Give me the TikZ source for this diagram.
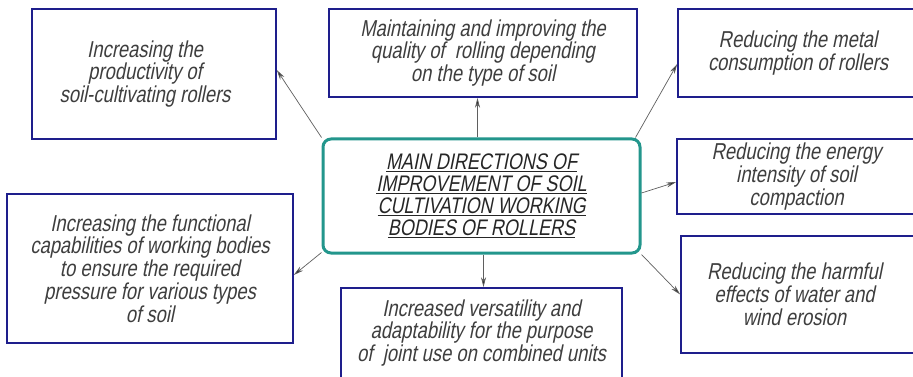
\documentclass[tikz,border=0pt]{standalone}
\usepackage{fontspec}
\setmainfont{Liberation Sans}[FakeSlant=0.2,FakeStretch=0.8]
\usetikzlibrary{arrows.meta}
\definecolor{boxblue}{RGB}{30,30,140}
\definecolor{hubteal}{RGB}{35,150,140}
\definecolor{inkgray}{RGB}{62,62,62}
\definecolor{wiregray}{RGB}{95,95,95}

\begin{document}
\begin{tikzpicture}[x=1pt,y=-1pt,
  aimtext/.style={text=inkgray, align=center, inner sep=0pt,
    font=\fontsize{23}{22.8}\selectfont},
  aim/.style={draw=boxblue, line width=1.6pt, fill=white, aimtext},
  hub/.style={draw=hubteal, line width=3pt, rounded corners=8pt, fill=white,
    text=black!85, align=center, inner sep=0pt, font=\fontsize{22.5}{22}\selectfont},
  link/.style={draw=wiregray, line width=0.7pt,
    -{Stealth[length=10pt,width=5pt,fill=black!85]}}]
\useasboundingbox (0,0) rectangle (913,377);
\clip (0,0) rectangle (913,377);
\fill[white] (0,0) rectangle (913,377);

% central hub
\node[hub, minimum width=317pt, minimum height=114pt] (c) at (481.5,196)
  {\underline{MAIN DIRECTIONS OF}\\\underline{IMPROVEMENT OF SOIL}\\
   \underline{CULTIVATION WORKING}\\\underline{BODIES OF ROLLERS}};

% surrounding directions
\node[aim, minimum width=244pt, minimum height=130pt,
  label={[aimtext, xshift=-9pt]center:Increasing the\\productivity of\\soil-cultivating rollers}]
  (b1) at (154,74) {};
\node[aim, minimum width=308pt, minimum height=88pt] (b2) at (483,53)
  {Maintaining and improving the\\quality of~ rolling depending\\on the type of soil};
% the right-hand column runs past the right edge
\node[aim, minimum width=322pt, minimum height=88pt,
  label={[aimtext, xshift=-41pt]center:Reducing the metal\\consumption of rollers}]
  (b3) at (839,53) {};
\node[aim, minimum width=323pt, minimum height=75pt,
  label={[aimtext, xshift=-42pt]center:Reducing the energy\\intensity of soil\\compaction}]
  (b4) at (838.5,176.5) {};
\node[aim, minimum width=319pt, minimum height=117pt,
  label={[aimtext, xshift=-46pt]center:Reducing the harmful\\effects of water and\\wind erosion}]
  (b5) at (840.5,294.5) {};
\node[aim, minimum width=286pt, minimum height=149pt] (b6) at (150,268.5)
  {Increasing the functional\\capabilities of working bodies\\to ensure the required\\pressure for various types\\of soil};
\node[aim, minimum width=281pt, minimum height=90pt] (b7) at (481.5,333)
  {Increased versatility and\\adaptability for the purpose\\of~ joint use on combined units};

% connectors
\draw[link] (c.north west) -- ([yshift=4pt]b1.east);
\draw[link] ([xshift=-4pt]c.north) -- ([xshift=-4pt]c.north |- b2.south);
\draw[link] ([xshift=-6pt]c.north east) -- ([yshift=-11pt]b3.west);
\draw[link] ([yshift=3pt]c.east) -- ([yshift=-5.5pt]b4.west);
\draw[link] (c.south east) -- (b5.west);
\draw[link] ([xshift=2pt]c.south) -- ([xshift=2pt]c.south |- b7.north);
\draw[link] ([yshift=2pt]c.south west) -- ([yshift=-6.5pt]b6.east);
\end{tikzpicture}
\end{document}
